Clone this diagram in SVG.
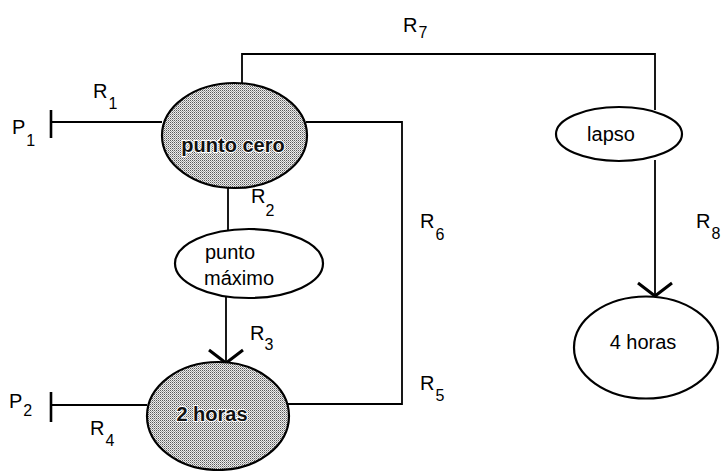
<svg xmlns="http://www.w3.org/2000/svg" width="728" height="471" viewBox="0 0 728 471">
  <defs>
    <!-- halftone stipple used for the shaded states -->
    <pattern id="stipple" width="2" height="2" patternUnits="userSpaceOnUse">
      <rect width="2" height="2" fill="#ededed"/>
      <rect x="0" y="0" width="1" height="1" fill="#5a5a5a"/>
      <rect x="1" y="1" width="1" height="1" fill="#a0a0a0"/>
    </pattern>
    <!-- open V arrowhead -->
    <marker id="vee" markerUnits="userSpaceOnUse" markerWidth="40" markerHeight="40" refX="20" refY="20" viewBox="0 0 40 40" orient="auto" overflow="visible">
      <path d="M7,3 L20,20 L7,37" fill="none" stroke="#000" stroke-width="3"/>
    </marker>
  </defs>
  <style>
    .wire { fill: none; stroke: #000; stroke-width: 1.8; }
    .bar { stroke: #000; stroke-width: 2.6; }
    .node { stroke: #000; stroke-width: 2.2; }
    .plain { fill: #fff; }
    .shaded { fill: url(#stipple); }
    .lbl { font-family: "Liberation Sans", Arial, sans-serif; font-size: 20px; fill: #000; }
    .sub { font-size: 16px; }
    .ntext { font-family: "Liberation Sans", Arial, sans-serif; font-size: 20px; fill: #000; }
    .ontone { fill: #111; stroke: #fff; stroke-width: 2; paint-order: stroke; font-weight: bold; }
  </style>
  <rect width="728" height="471" fill="#fff"/>

  <!-- connectors -->
  <g id="connectors">
    <line class="bar" x1="51" y1="110" x2="51" y2="138"/>
    <line class="wire" x1="51" y1="122" x2="162" y2="122"/>
    <path class="wire" d="M242,84 V54 H655 V110"/>
    <path class="wire" d="M306,122 H402 V404 H288"/>
    <line class="wire" x1="228" y1="187" x2="228" y2="230"/>
    <line class="wire" x1="226" y1="297" x2="226" y2="363" marker-end="url(#vee)"/>
    <line class="bar" x1="51" y1="392" x2="51" y2="422"/>
    <line class="wire" x1="51" y1="405" x2="147" y2="405"/>
    <line class="wire" x1="655" y1="160" x2="655" y2="296" marker-end="url(#vee)"/>
  </g>

  <!-- connector labels -->
  <g id="labels">
    <text class="lbl" x="12" y="134">P<tspan class="sub" dx="1" dy="12">1</tspan></text>
    <text class="lbl" x="93" y="98">R<tspan class="sub" dx="1" dy="11">1</tspan></text>
    <text class="lbl" x="251" y="203">R<tspan class="sub" dx="0" dy="13">2</tspan></text>
    <text class="lbl" x="250" y="340">R<tspan class="sub" dx="0" dy="10">3</tspan></text>
    <text class="lbl" x="9" y="408">P<tspan class="sub" dx="1" dy="8">2</tspan></text>
    <text class="lbl" x="90" y="435">R<tspan class="sub" dx="1" dy="11">4</tspan></text>
    <text class="lbl" x="420" y="390">R<tspan class="sub" dx="1" dy="11">5</tspan></text>
    <text class="lbl" x="420" y="228">R<tspan class="sub" dx="1" dy="12">6</tspan></text>
    <text class="lbl" x="403" y="32">R<tspan class="sub" dx="1" dy="6">7</tspan></text>
    <text class="lbl" x="696" y="228">R<tspan class="sub" dx="1" dy="11">8</tspan></text>
  </g>

  <!-- states -->
  <g id="punto-cero">
    <ellipse class="node shaded" cx="234.5" cy="135.5" rx="72.5" ry="52.5"/>
    <text class="ntext ontone" x="233" y="152" text-anchor="middle">punto cero</text>
  </g>
  <g id="punto-maximo">
    <ellipse class="node plain" cx="249" cy="263.5" rx="74" ry="34.5"/>
    <text class="ntext" x="205" y="259">punto</text>
    <text class="ntext" x="204" y="285">máximo</text>
  </g>
  <g id="dos-horas">
    <ellipse class="node shaded" cx="218" cy="416" rx="71" ry="54"/>
    <text class="ntext ontone" x="212" y="421" text-anchor="middle">2 horas</text>
  </g>
  <g id="lapso">
    <ellipse class="node plain" cx="619" cy="134" rx="63" ry="27"/>
    <text class="ntext" x="611" y="141" text-anchor="middle">lapso</text>
  </g>
  <g id="cuatro-horas">
    <ellipse class="node plain" cx="646" cy="347.5" rx="72" ry="51"/>
    <text class="ntext" x="643" y="349" text-anchor="middle">4 horas</text>
  </g>
</svg>
